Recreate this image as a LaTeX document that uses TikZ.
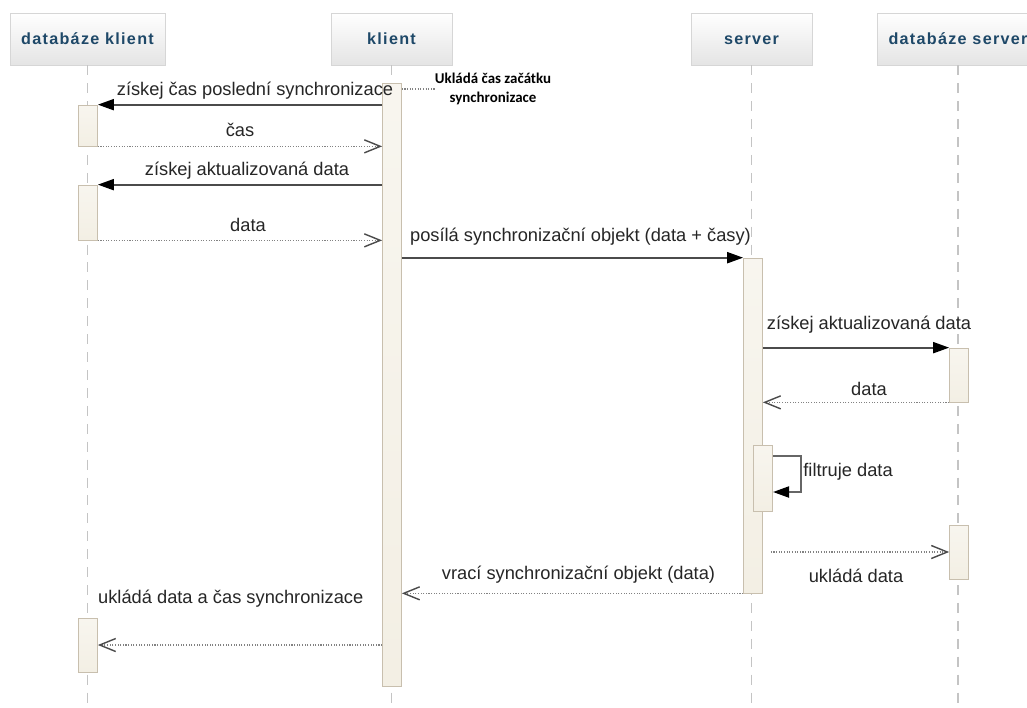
\documentclass[tikz,border=0pt]{standalone}
\usepackage{fontspec}
\setmainfont{Liberation Sans}
\newfontfamily\headfont[LetterSpace=8]{Liberation Sans}
\newfontfamily\notefont{Carlito}
\usetikzlibrary{arrows.meta, positioning}

\definecolor{headtext}{RGB}{30,72,104}
\definecolor{headline}{RGB}{214,214,214}
\definecolor{headfill}{RGB}{228,228,228}
\definecolor{barfill}{RGB}{243,239,228}
\definecolor{barline}{RGB}{200,191,174}
\definecolor{lifeline}{RGB}{196,196,196}
\definecolor{msgline}{RGB}{75,75,75}
\definecolor{retline}{RGB}{130,130,130}

\begin{document}
\begin{tikzpicture}[
    x=0.02cm, y=-0.02cm,
    head/.style={draw=headline, top color=white, bottom color=headfill, minimum width=#1, minimum height=1.04cm, inner sep=0pt, font=\headfont\bfseries\fontsize{9.2}{10}\selectfont, text=headtext, text height=0.72em, text depth=0.05em},
    head/.default=2.42cm,
    bar/.style={draw=barline, top color=white!40!barfill, bottom color=barfill, minimum width=0.38cm, minimum height=#1, inner sep=0pt},
    life/.style={draw=lifeline, line width=1.1pt, dash pattern=on 5.7pt off 4.5pt},
    call/.style={draw=msgline, line width=1.1pt, -{Triangle[length=3.2mm,width=2.2mm,color=black]}},
    ret/.style={draw=retline, line width=0.8pt, dash pattern=on 0.6pt off 0.9pt, -{Straight Barb[length=3.2mm,width=2.6mm,color=msgline]}},
    lbl/.style={font=\fontsize{10.4}{12}\selectfont, text=black!85, inner sep=0pt, text height=0.75em, text depth=0.22em},
    notetext/.style={font=\notefont\bfseries\fontsize{8.5}{10.8}\selectfont, align=center, inner sep=0pt}
]
    \useasboundingbox (0,0) rectangle (1027,707);
    \fill[white] (0,0) rectangle (1027,707);
    \clip (0,0) rectangle (1027,707);

    % Lifeline heads
    \node[head=3.1cm] (dbk) at (87.5,39) {databáze klient};
    \node[head] (kli) at (391.5,39) {klient};
    \node[head] (srv) at (751.5,39) {server};
    \node[head=3.24cm] (dbs) at (958,39) {databáze server};

    % Lifelines
    \coordinate (bot) at (0,707);
    \foreach \h in {dbk, kli, srv, dbs}
        \draw[life] (\h.south) -- (\h.south |- bot);

    % Activation bars
    \node[bar=12.06cm] (kbar) at (392,384.5) {};
    \node[bar=0.82cm] (dk1) at (88,125.5) {};
    \node[bar=1.1cm] (dk2) at (88,212.5) {};
    \node[bar=1.08cm] (dk3) at (88,645) {};
    \node[bar=6.7cm] (sbar) at (753,425.5) {};
    \node[bar=1.32cm] (filt) at (763,478) {};
    \node[bar=1.08cm] (ds1) at (959,375) {};
    \node[bar=1.08cm] (ds2) at (959,552) {};

    % Note
    \node[notetext] (note) at (493,89) {Ukládá čas začátku\\synchronizace};
    \draw[draw=retline, line width=0.8pt, dash pattern=on 0.6pt off 0.9pt] (kbar.east |- note.west) -- (note.west);

    % Client side
    \draw[call] (kbar.west |- dk1.north) -- node[lbl, above=2.6pt, xshift=0.3cm] (m1) {získej čas poslední synchronizace} (dk1.north east);
    \draw[ret] (dk1.south east) -- node[lbl, above=3.2pt] (m2) {čas} (kbar.west |- dk1.south);
    \draw[call] (kbar.west |- dk2.north) -- node[lbl, above=2.6pt, xshift=0.14cm] (m3) {získej aktualizovaná data} (dk2.north east);
    \draw[ret] (dk2.south east) -- node[lbl, above=2.6pt, xshift=0.16cm] (m4) {data} (kbar.west |- dk2.south);

    % Client to server
    \draw[call] (kbar.east |- sbar.north) -- node[lbl, above=6.6pt, xshift=0.16cm] (m5) {posílá synchronizační objekt (data + časy)} (sbar.north west);

    % Server side
    \draw[call] (sbar.east |- ds1.north) -- node[lbl, above=7.7pt, xshift=0.26cm] (m6) {získej aktualizovaná data} (ds1.north west);
    \draw[ret] (ds1.south west) -- node[lbl, above=1.5pt, xshift=0.26cm] (m7) {data} (sbar.east |- ds1.south);

    \coordinate (fout) at (773,456);
    \coordinate (fin) at (773,492);
    \draw[call, draw=black!60] (fout) -- ++(28,0) |- (fin);
    \node[lbl, anchor=west] (m8) at (803,472) {filtruje data};

    \draw[ret, shorten <=0.16cm] (sbar.east |- ds2.west) -- node[lbl, below=9.6pt] (m9) {ukládá data} (ds2.west);

    % Back to client
    \draw[ret] (sbar.south west) -- node[lbl, above=5.5pt, xshift=0.12cm] (m10) {vrací synchronizační objekt (data)} (kbar.east |- sbar.south);
    \draw[ret] (kbar.west |- dk3.east) -- (dk3.east);
    \node[lbl, above right=0.19cm and 0cm of dk3.north east] (m11) {ukládá data a čas synchronizace};
\end{tikzpicture}
\end{document}
